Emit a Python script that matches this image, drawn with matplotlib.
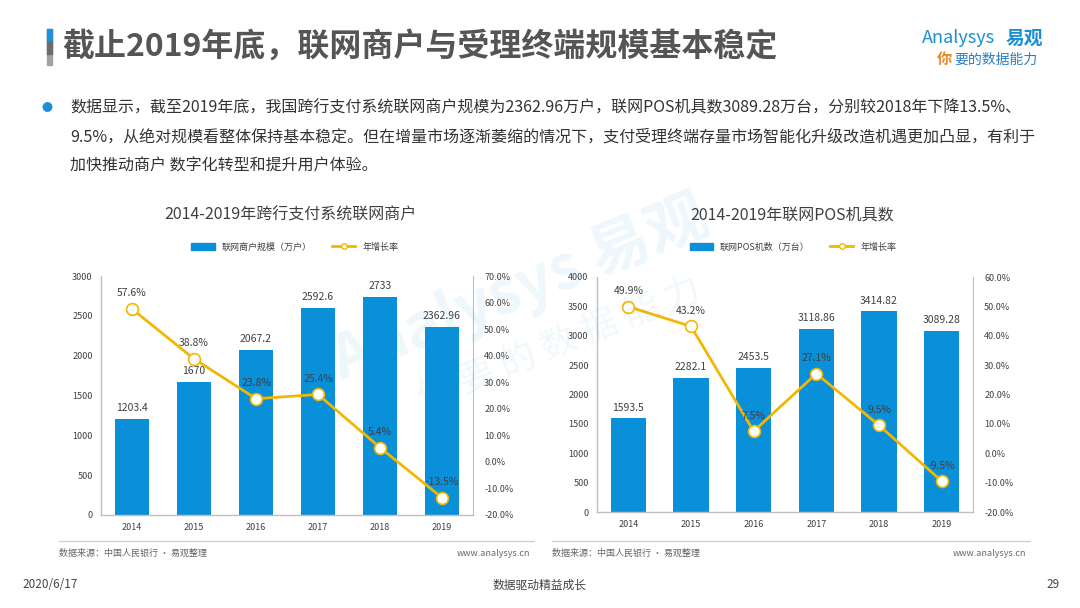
import matplotlib
matplotlib.use('Agg')
from matplotlib import pyplot as plt
from matplotlib.patches import Rectangle
from matplotlib.lines import Line2D

plt.rcParams['font.family'] = ['Noto Sans CJK SC', 'DejaVu Sans']

years = ['2014', '2015', '2016', '2017', '2018', '2019']

merchants = [1203.4, 1670, 2067.2, 2592.6, 2733, 2362.96]
merchant_labels = ['1203.4', '1670', '2067.2', '2592.6', '2733', '2362.96']
merchant_growth = [57.6, 38.8, 23.8, 25.4, 5.4, -13.5]

pos = [1593.5, 2282.1, 2453.5, 3118.86, 3414.82, 3089.28]
pos_labels = ['1593.5', '2282.1', '2453.5', '3118.86', '3414.82', '3089.28']
pos_growth = [49.9, 43.2, 7.5, 27.1, 9.5, -9.5]

BLUE = '#0a8fd9'
GOLD = '#f2b705'
TXT = '#404040'
GRID = '#bfbfbf'

W, H = 1080, 608
fig = plt.figure(figsize=(10.8, 6.08), dpi=100)
fig.patch.set_facecolor('white')


def fx(px):
    return px / W


def fy(py):
    return 1 - py / H


def chart(rect, vals, vlabels, growth, ymax, ystep, gmax, title, tx, bar_name, leg_x):
    ax = fig.add_axes(rect)
    x = range(len(years))
    ax.bar(x, vals, width=0.56, color=BLUE, zorder=2)
    ax.set_xlim(-0.5, len(years) - 0.5)
    ax.set_ylim(0, ymax)
    ax.set_yticks(range(0, ymax + 1, ystep))
    ax.set_xticks(list(x))
    ax.set_xticklabels(years)
    for s in ['top', 'right']:
        ax.spines[s].set_visible(False)
    for s in ['left', 'bottom']:
        ax.spines[s].set_color(GRID)
        ax.spines[s].set_linewidth(1)
    ax.tick_params(length=0, labelsize=6.5, colors=TXT, pad=6)
    for i, v in enumerate(vals):
        ax.text(i, v + ymax * 0.025, vlabels[i], ha='center', va='bottom',
                fontsize=7.5, color=TXT, zorder=5)

    ax2 = ax.twinx()
    ax2.set_ylim(-20, gmax)
    ax2.set_yticks(range(-20, gmax + 1, 10))
    ax2.set_yticklabels(['%.1f%%' % t for t in range(-20, gmax + 1, 10)])
    for s in ['top', 'left', 'bottom']:
        ax2.spines[s].set_visible(False)
    ax2.spines['right'].set_color(GRID)
    ax2.tick_params(length=0, labelsize=6.5, colors=TXT, pad=8)
    ax2.plot(list(x), growth, color=GOLD, lw=2, marker='o', ms=8.5,
             mfc='white', mec=GOLD, mew=1.2, zorder=4)
    rng = gmax + 20
    for i, g in enumerate(growth):
        ax2.text(i, g + rng * 0.045, '%.1f%%' % g, ha='center', va='bottom',
                 fontsize=7.5, color=TXT, zorder=5)

    fig.text(fx(tx), fy(215), title, ha='center', va='center', fontsize=11.5, color=TXT)
    handles = [Rectangle((0, 0), 1, 1, color=BLUE),
               Line2D([0], [0], color=GOLD, lw=2, marker='o', ms=4, mfc='white', mec=GOLD)]
    fig.legend(handles, [bar_name, '年增长率'], loc='center', ncol=2,
               bbox_to_anchor=(fx(leg_x), fy(247)), frameon=False, fontsize=6.5,
               handlelength=2.6, handleheight=0.7, columnspacing=2.2,
               labelcolor=TXT)
    return ax


# watermark
fig.text(fx(520), fy(290), 'Analysys 易观', fontsize=44, color='#0a8fd9', alpha=0.07,
         rotation=22, ha='center', va='center', fontweight='bold')
fig.text(fx(560), fy(345), '你 要 的 数 据 能 力', fontsize=26, color='#0a8fd9', alpha=0.06,
         rotation=22, ha='center', va='center')

chart([fx(101), fy(515), fx(473 - 101), (515 - 276) / H],
      merchants, merchant_labels, merchant_growth, 3000, 500, 70,
      '2014-2019年跨行支付系统联网商户', 290, '联网商户规模（万户）', 295)
chart([fx(597), fy(512), fx(973 - 597), (512 - 277) / H],
      pos, pos_labels, pos_growth, 4000, 500, 60,
      '2014-2019年联网POS机具数', 792, '联网POS机数（万台）', 793)

# header bar: blue on top, grey below
fig.add_artist(Rectangle((fx(47), fy(65)), fx(5), (65 - 29) / H, color='#a3a3a3',
                         transform=fig.transFigure))
fig.add_artist(Rectangle((fx(47), fy(54)), fx(5), (54 - 40) / H, color='#6e6e6e',
                         transform=fig.transFigure))
fig.add_artist(Rectangle((fx(47), fy(40)), fx(5), (40 - 29) / H, color='#1e90dc',
                         transform=fig.transFigure))
fig.text(fx(62), fy(47), '截止2019年底，联网商户与受理终端规模基本稳定', fontsize=23,
         color='#555555', va='center', ha='left', fontweight='bold')

# logo
fig.text(fx(922), fy(38), 'Analysys', fontsize=13, color='#1a8fd6', va='center',
         ha='left', style='italic')
fig.text(fx(1006), fy(38), '易观', fontsize=13.5, color='#1a8fd6', va='center',
         ha='left', fontweight='bold')
fig.text(fx(937), fy(59), '你', fontsize=11, color='#e8892a', va='center', ha='left',
         fontweight='bold')
fig.text(fx(954), fy(60), '要的数据能力', fontsize=10, color='#2a7fc4', va='center',
         ha='left')

# body text
fig.text(fx(47), fy(108), '●', fontsize=8, color='#1a8fd6', va='center', ha='center')
body = ['数据显示，截至2019年底，我国跨行支付系统联网商户规模为2362.96万户，联网POS机具数3089.28万台，分别较2018年下降13.5%、',
        '9.5%，从绝对规模看整体保持基本稳定。但在增量市场逐渐萎缩的情况下，支付受理终端存量市场智能化升级改造机遇更加凸显，有利于',
        '加快推动商户 数字化转型和提升用户体验。']
for k, line in enumerate(body):
    fig.text(fx(70), fy(108 + 29 * k), line, fontsize=11.5, color='#333333',
             va='center', ha='left')

# footer
for x0, x1 in [(59, 534), (552, 1030)]:
    fig.add_artist(Line2D([fx(x0), fx(x1)], [fy(541), fy(541)], color='#d0d0d0', lw=1,
                          transform=fig.transFigure))
    fig.text(fx(x0), fy(553), '数据来源：中国人民银行 · 易观整理', fontsize=6.5,
             color='#666666', va='center', ha='left')
    fig.text(fx(x1 - 4), fy(553), 'www.analysys.cn', fontsize=6.5, color='#666666',
             va='center', ha='right')
fig.text(fx(22), fy(585), '2020/6/17', fontsize=8.5, color='#444444', va='center', ha='left')
fig.text(fx(540), fy(585), '数据驱动精益成长', fontsize=8.5, color='#444444', va='center',
         ha='center')
fig.text(fx(1060), fy(585), '29', fontsize=8.5, color='#444444', va='center', ha='right')

fig.savefig('out.png', dpi=100)
